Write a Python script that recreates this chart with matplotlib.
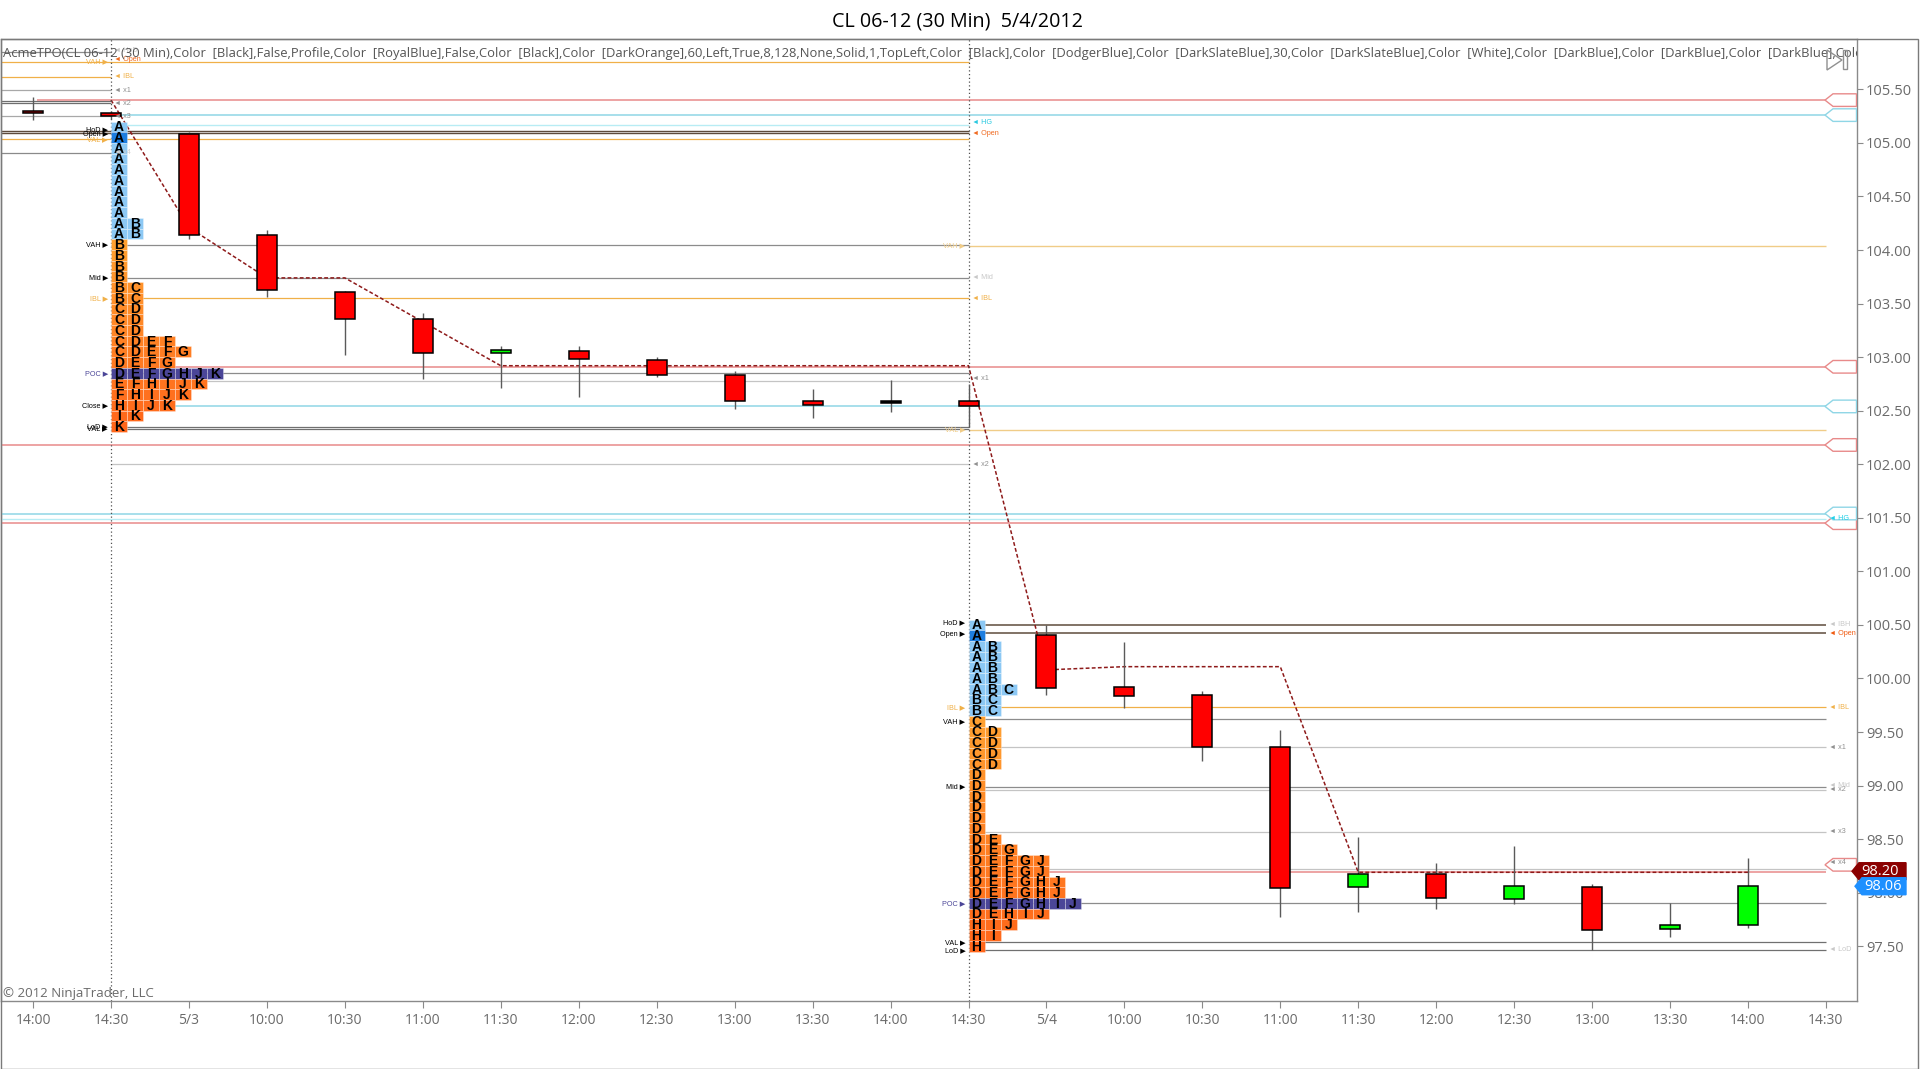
import numpy as np
import matplotlib
matplotlib.use("Agg")
import matplotlib.pyplot as plt
from matplotlib.patches import Rectangle, Polygon
from matplotlib import transforms
from matplotlib.colors import to_rgb

W, H = 1920, 1069

# ── data ────────────────────────────────────────────────────────────────
bar_labels = ["14:00", "14:30", "5/3", "10:00", "10:30", "11:00", "11:30", "12:00",
              "12:30", "13:00", "13:30", "14:00", "14:30", "5/4", "10:00", "10:30",
              "11:00", "11:30", "12:00", "12:30", "13:00", "13:30", "14:00", "14:30"]

c_open  = [105.29, 105.28, 105.085, 104.14, 103.61, 103.36, 103.04, 103.06, 102.97, 102.83,
           102.595, 102.57, 102.59, 100.41, 99.92, 99.85, 99.36, 98.05, 98.17, 97.94,
           98.05, 97.66, 97.70]
c_high  = [105.43, 105.30, 105.10, 104.19, 103.62, 103.41, 103.10, 103.10, 103.00, 102.87,
           102.70, 102.79, 102.75, 100.50, 100.34, 99.88, 99.52, 98.52, 98.28, 98.44,
           98.08, 97.90, 98.32]
c_low   = [105.21, 105.22, 104.10, 103.56, 103.02, 102.80, 102.71, 102.63, 102.81, 102.52,
           102.43, 102.49, 102.35, 99.85, 99.72, 99.23, 97.77, 97.82, 97.85, 97.89,
           97.46, 97.59, 97.67]
c_close = [105.275, 105.255, 104.14, 103.63, 103.36, 103.04, 103.07, 102.98, 102.83, 102.59,
           102.557, 102.57, 102.54, 99.91, 99.84, 99.36, 98.04, 98.17, 97.95, 98.06,
           97.65, 97.70, 98.06]

# developing line (dark red dashes)
dev_bars = list(range(1, 23))
dev_vals = [105.40, 104.21, 103.74, 103.74, 103.33, 102.92, 102.92, 102.92, 102.92, 102.92,
            102.92, 102.92, 100.08, 100.11, 100.11, 100.11, 98.19, 98.19, 98.19, 98.19,
            98.19, 98.19]

# TPO profiles, rows top -> bottom, 0.10 per row
p1_top = 105.15
p1_rows = ["A", "A", "A", "A", "A", "A", "A", "A", "A", "AB", "AB", "B", "B", "B", "B",
           "BC", "BC", "CD", "CD", "CD", "CDEF", "CDEFG", "DEFG", "DEFGHJK", "EFHIJK",
           "FHIJK", "HIJK", "IK", "K"]
p1_open_row, p1_vah_row, p1_poc_row = 1, 11, 23

p2_top = 100.50
p2_rows = ["A", "A", "AB", "AB", "AB", "AB", "ABC", "BC", "BC", "C", "CD", "CD", "CD", "CD",
           "D", "D", "D", "D", "D", "D", "DE", "DEG", "DEFGJ", "DEFGJ", "DEFGHJ", "DEFGHJ",
           "DEFGHIJ", "DEHIJ", "HIJ", "HI", "H"]
p2_open_row, p2_vah_row, p2_poc_row = 1, 9, 26

# level lines
prev_levels   = [105.85, 105.62, 105.49, 105.39, 105.37, 105.25, 104.91]
prev_va_proj  = [105.76, 105.04]
s1_hod, s1_open, s1_hg = 105.11, 105.09, 105.17
s1_vah, s1_mid, s1_ibl, s1_poc = 104.05, 103.74, 103.55, 102.85
s1_x1, s1_val, s1_lod, s1_x2 = 102.78, 102.35, 102.33, 102.00
s1_va_proj = [104.04, 102.32]
s2_hod, s2_open, s2_ibl, s2_vah = 100.50, 100.42, 99.73, 99.62
s2_x1, s2_mid, s2_x2, s2_x3, s2_x4 = 99.36, 98.99, 98.96, 98.57, 98.22
s2_poc, s2_val, s2_lod = 97.90, 97.54, 97.46

pink_levels = [105.40, 102.91, 102.18, 101.45, 98.19]
pink_start  = [0.05, 1, -0.5, -0.5, 13]
cyan_levels = [105.26, 102.54, 101.54]
cyan_start  = [1, 1, -0.5]
hg_level = 101.49

last_dev, last_price = 98.20, 98.06
yticks = np.arange(97.5, 105.51, 0.5)

header = ("AcmeTPO(CL 06-12 (30 Min),Color  [Black],False,Profile,Color  [RoyalBlue],False,"
          "Color  [Black],Color  [DarkOrange],60,Left,True,8,128,None,Solid,1,TopLeft,"
          "Color  [Black],Color  [DodgerBlue],Color  [DarkSlateBlue],30,Color  [DarkSlateBlue],"
          "Color  [White],Color  [DarkBlue],Color  [DarkBlue],Color  [DarkBlue],")
header_tail = "Color  [DarkBlue],Color  [DarkBlue]"

# ── layout helpers (pixel geometry of the screenshot) ───────────────────
AX_L, AX_R, AX_T, AX_B = 1, 1857, 39, 1001
X0_PX, BAR_PX = 33.1, 77.95
PY = 107.1                      # pixels per dollar
def bx(px):                     # screen x pixel -> bar coordinate
    return (px - X0_PX) / BAR_PX
def fx(px):                     # screen x pixel -> axes fraction
    return (px - AX_L) / (AX_R - AX_L)
Y_TOP = 105.5 + (89.4 - AX_T) / PY
Y_BOT = 105.5 - (AX_B - 89.4) / PY
CELL = 16 / BAR_PX

BROWN, GRAY, LGRAY = "#5E4B3C", "#8C8C8C", "#C4C4C4"
GOLD, PALE_OR = "#F0B048", "#F0CC88"
PINK, CYAN, HGCYAN = "#E88A8A", "#8FD6E6", "#B8ECF4"
SLATE = "#4B4698"
UI = ["Open Sans", "DejaVu Sans"]
SMALL = ["Liberation Sans", "DejaVu Sans"]

fig = plt.figure(figsize=(W / 100, H / 100), dpi=100)
ax = fig.add_axes([AX_L / W, 1 - AX_B / H, (AX_R - AX_L) / W, (AX_B - AX_T) / H])
ax.set_xlim(bx(AX_L), bx(AX_R))
ax.set_ylim(Y_BOT, Y_TOP)
for s in ax.spines.values():
    s.set_color("#8A8A8A"); s.set_linewidth(1)

ax.yaxis.tick_right()
ax.set_yticks(yticks)
ax.set_yticklabels([f"{v:.2f}" for v in yticks], family=UI)
ax.set_xticks(range(len(bar_labels)))
ax.set_xticklabels(bar_labels, family=UI)
ax.tick_params(axis="y", length=4, color="#8A8A8A", labelcolor="#6A6A6A", labelsize=10.5, pad=2.5)
ax.tick_params(axis="x", length=5, color="#8A8A8A", labelcolor="#6A6A6A", labelsize=10, pad=3.5)

L_END = bx(AX_L) - 0.1
S1, S2, S3 = 1, 12, 23

def hl(y, x0, x1, color, lw=1.0, z=2):
    ax.hlines(y, x0, x1, colors=color, lw=lw, zorder=z)

# previous session (5/2) levels
for v, col in zip(prev_levels, [GRAY, GOLD, "#A8A8A8", "#6E6E6E", "#6E6E6E", "#A8A8A8", "#8A8A8A"]):
    hl(v, L_END, S1, col, 0.9)
for v in prev_va_proj:
    hl(v, L_END, S2, GOLD, 0.9)

# session 1 levels
hl(s1_hod, L_END, S2, BROWN, 1.0); hl(s1_open, L_END, S2, BROWN, 1.0)
hl(s1_hg, S1, S2, HGCYAN)
for v, col in [(s1_vah, GRAY), (s1_mid, GRAY), (s1_ibl, GOLD), (s1_poc, GRAY),
               (s1_x1, LGRAY), (s1_val, "#707070"), (s1_lod, "#707070"), (s1_x2, LGRAY)]:
    hl(v, S1, S2, col, 0.9)
for v in s1_va_proj:
    hl(v, S2, S3, PALE_OR)

# session 2 levels
for v, col in [(s2_hod, BROWN), (s2_open, BROWN), (s2_ibl, GOLD), (s2_vah, GRAY),
               (s2_x1, LGRAY), (s2_mid, GRAY), (s2_x2, LGRAY), (s2_x3, LGRAY),
               (s2_x4, LGRAY), (s2_poc, GRAY), (s2_val, "#707070"), (s2_lod, "#707070")]:
    hl(v, S2, S3, col, 1.1 if col == BROWN else 0.9)

# pivot style lines with tags on the right edge
tag_tr = transforms.blended_transform_factory(ax.transAxes, ax.transData)
def tag(val, col):
    h = 6.3 / PY
    ax.add_patch(Polygon([(fx(1825), val), (fx(1833), val + h), (fx(1856.5), val + h),
                          (fx(1856.5), val - h), (fx(1833), val - h)], closed=True,
                         fc="white", ec=col, lw=1, transform=tag_tr, zorder=5))
for v, x0 in zip(pink_levels, pink_start):
    hl(v, x0, bx(1826), PINK, 1.1, 3)
for v, x0 in zip(cyan_levels, cyan_start):
    hl(v, x0, bx(1826), CYAN, 1.1, 3)
hl(hg_level, L_END, S3, HGCYAN, 1.0, 3)
for v in pink_levels[:-1]:
    tag(v, PINK)
tag(pink_levels[-1] + 0.07, PINK)
for v in cyan_levels:
    tag(v, CYAN)

# session separators
for sb in (S1, S2):
    ax.axvline(sb, color="#505050", lw=0.9, ls=(0, (1, 2)), zorder=4)

# developing line
ax.plot(dev_bars, dev_vals, color="#8E1A1A", lw=1.1, ls=(0, (2.5, 1.5)), zorder=3)

# candles
bw = 20 / BAR_PX
for i, (o, hi, lo, c) in enumerate(zip(c_open, c_high, c_low, c_close)):
    ax.vlines(i, lo, hi, color="#5A5A5A", lw=1, zorder=8)
    if c > o:
        fc = "#00FF00"
    elif c < o:
        fc = "#FF0000"
    else:
        fc = "black"
    bot = min(o, c)
    hgt = max(abs(c - o), 2.2 / PY)
    ax.add_patch(Rectangle((i - bw / 2, bot), bw, hgt, fc=fc, ec="black", lw=1.1, zorder=9))

# TPO profiles
OR_TOP, OR_BOT = np.array(to_rgb("#FFA030")), np.array(to_rgb("#FF661A"))
def draw_profile(start, top, rows, open_row, vah_row, poc_row):
    n = len(rows)
    for i, letters in enumerate(rows):
        price = top - 0.1 * i
        for j, ch in enumerate(letters):
            if i == poc_row:
                fc = SLATE
            elif i < vah_row:
                fc = "#1E7EE0" if (i == open_row and j == 0) else "#8CC8F4"
            else:
                t = (i - vah_row) / max(n - 1 - vah_row, 1)
                fc = tuple(OR_TOP + (OR_BOT - OR_TOP) * t)
            ax.add_patch(Rectangle((start + j * CELL, price - 0.05), CELL, 0.1, fc=fc,
                                   ec=(1, 1, 1, 0.35), lw=0.6, zorder=10))
            ax.text(start + (j + 0.5) * CELL, price - 0.004, ch, ha="center", va="center",
                    fontsize=10, fontweight="bold", family=SMALL, color="black", zorder=11)
draw_profile(S1, p1_top, p1_rows, p1_open_row, p1_vah_row, p1_poc_row)
draw_profile(S2, p2_top, p2_rows, p2_open_row, p2_vah_row, p2_poc_row)

# small level labels
def lab_left(sb, y, s, col):
    ax.text(sb - 3 / BAR_PX, y, s + " \u25B6", ha="right", va="center", fontsize=5.2,
            family=SMALL, color=col, zorder=12)
def lab_right(sb, y, s, col):
    ax.text(sb + 3 / BAR_PX, y, "\u25C4 " + s, ha="left", va="center", fontsize=5.2,
            family=SMALL, color=col, zorder=12)

for y, s, col in [(prev_va_proj[0], "VAH", GOLD), (s1_hod + 0.01, "HoD", "black"),
                  (s1_open - 0.01, "Open", "black"), (prev_va_proj[1] - 0.01, "VAL", GOLD),
                  (s1_vah, "VAH", "black"), (s1_mid, "Mid", "black"), (s1_ibl, "IBL", GOLD),
                  (s1_poc, "POC", SLATE), (102.55, "Close", "black"), (s1_val, "LoD", "black"),
                  (s1_lod, "VAL", "black")]:
    lab_left(S1, y, s, col)
for y, s, col in [(105.86, "HoD", "#C8C8C8"), (105.78, "Open", "#F06A20"), (prev_levels[1], "IBL", GOLD),
                  (prev_levels[2], "x1", "#909090"), (prev_levels[4], "x2", "#909090"),
                  (prev_levels[5], "x3", "#909090"), (prev_levels[6], "x4", "#D0D0D0")]:
    lab_right(S1, y, s, col)
for y, s, col in [(s1_hg + 0.02, "HG", "#28C8E0"), (s1_open, "Open", "#F06A20"),
                  (s1_mid, "Mid", "#C8C8C8"), (s1_ibl, "IBL", GOLD),
                  (s1_x1 + 0.02, "x1", "#909090"), (s1_x2, "x2", "#909090")]:
    lab_right(S2, y, s, col)
for y, s in [(s1_va_proj[0], "VAH"), (s1_va_proj[1], "VAL")]:
    lab_left(S2, y, s, PALE_OR)
for y, s, col in [(s2_hod + 0.02, "HoD", "black"), (s2_open - 0.01, "Open", "black"),
                  (s2_ibl, "IBL", GOLD), (s2_vah - 0.02, "VAH", "black"), (s2_mid, "Mid", "black"),
                  (s2_poc, "POC", SLATE), (s2_val - 0.01, "VAL", "black"), (s2_lod, "LoD", "black")]:
    lab_left(S2, y, s, col)
for y, s, col in [(s2_hod, "IBH", "#C8C8C8"), (s2_open, "Open", "#F05A10"), (s2_ibl, "IBL", GOLD),
                  (s2_x1, "x1", "#909090"), (s2_x2, "x2", "#909090"), (s2_mid + 0.01, "Mid", "#C8C8C8"),
                  (s2_x3, "x3", "#909090"), (s2_x4 + 0.06, "x4", "#909090"), (s2_lod + 0.01, "LoD", "#C8C8C8")]:
    lab_right(S3, y, s, col)
lab_right(S3, hg_level, "HG", "#20D0E8")

# header line of indicator parameters (clipped at the axes edge)
ht = ax.text(fx(3), 1 - (54 - AX_T) / (AX_B - AX_T), header + header_tail, transform=ax.transAxes,
             ha="left", va="center", fontsize=10, family=UI, color="#555555", clip_on=True, zorder=13)
probe = fig.text(0, 0, header, fontsize=10, family=UI)
fig.canvas.draw()
wpx = probe.get_window_extent(fig.canvas.get_renderer()).width
probe.remove()
ht.set_fontsize(10 * 1834 / wpx)

ax.text(fx(3), (AX_B - 993) / (AX_B - AX_T), "\u00A9 2012 NinjaTrader, LLC", transform=ax.transAxes,
        ha="left", va="center", fontsize=9.5, family=UI, color="#6A6A6A", zorder=13)

# last value markers right of the price axis
out_tr = transforms.blended_transform_factory(fig.transFigure, ax.transData)
for val, col, x_tip, x_box in [(last_dev, "#8B0000", 1852, 1859), (last_price, "#1E90FF", 1855, 1862)]:
    h = 8.5 / PY
    ax.add_patch(Polygon([(x_tip / W, val), (x_box / W, val + h), (1906 / W, val + h),
                          (1906 / W, val - h), (x_box / W, val - h)], closed=True, fc=col,
                         ec=col, transform=out_tr, clip_on=False, zorder=20))
    ax.text((x_box + 2) / W, val, f"{val:.2f}", transform=out_tr, ha="left", va="center",
            fontsize=10.5, family=UI, color="white", clip_on=False, zorder=21)

# title, frame and the small icon
fig.text(958 / W, 1 - 21 / H, "CL 06-12 (30 Min)  5/4/2012", ha="center", va="center",
         fontsize=14.2, family=UI, color="black")
fig.patches.append(Rectangle((0.5 / W, 1 - 1068.5 / H), 1917.5 / W, (1068.5 - 39) / H,
                             transform=fig.transFigure, fill=False, ec="#7A7A7A", lw=1))
fig.patches.append(Polygon([(1827 / W, 1 - 50 / H), (1827 / W, 1 - 70 / H), (1842 / W, 1 - 60 / H)],
                           closed=True, fill=False, ec="#909090", lw=1, transform=fig.transFigure))
fig.patches.append(Rectangle((1843 / W, 1 - 69 / H), 4 / W, 19 / H, fill=False, ec="#909090",
                             lw=1, transform=fig.transFigure))

fig.savefig("out.png", dpi=100)
